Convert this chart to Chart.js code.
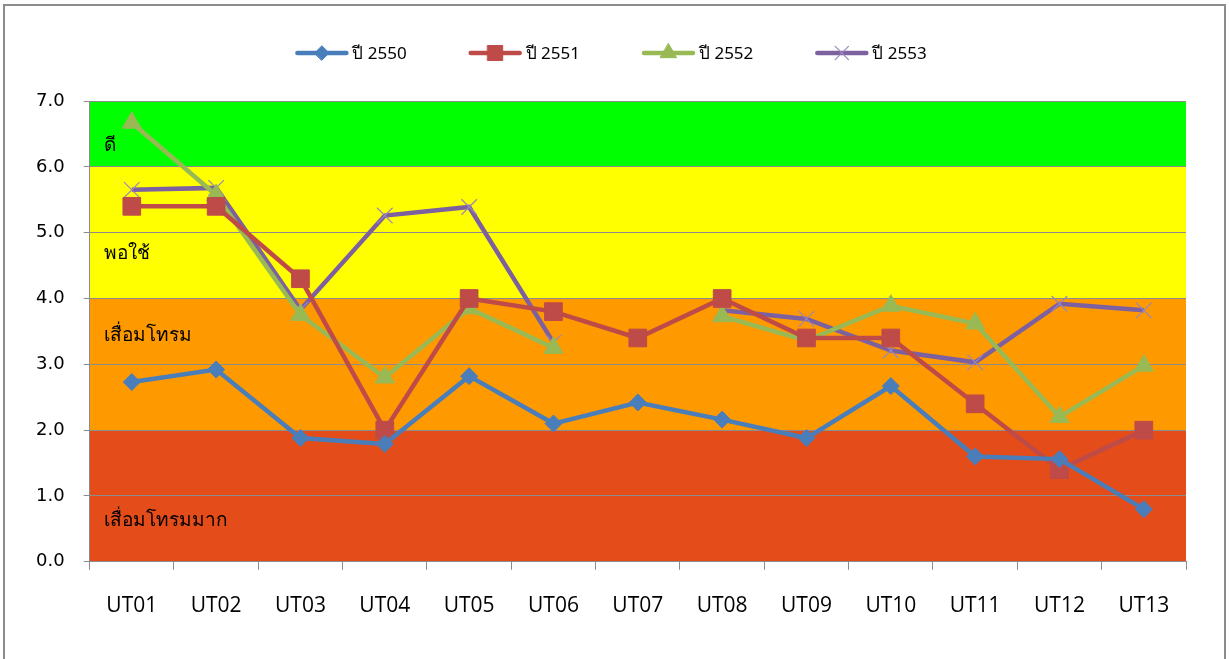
<!DOCTYPE html>
<html>
<head>
<meta charset="utf-8">
<script src="https://cdn.jsdelivr.net/npm/chart.js@4/dist/chart.umd.min.js"></script>
<style>
  html, body { margin: 0; padding: 0; background: #fff; }
  #wrap { width: 1229px; height: 659px; position: relative; }
</style>
</head>
<body>
<div id="wrap"><canvas id="chart"></canvas></div>
<script>
// categories and series
const units = ['UT01','UT02','UT03','UT04','UT05','UT06','UT07','UT08','UT09','UT10','UT11','UT12','UT13'];
const y2550 = [2.73, 2.92, 1.88, 1.79, 2.82, 2.10, 2.42, 2.16, 1.88, 2.67, 1.60, 1.56, 0.80];
const y2551 = [5.40, 5.40, 4.30, 2.00, 4.00, 3.80, 3.40, 4.00, 3.40, 3.40, 2.40, 1.40, 2.00];
const y2552 = [6.67, 5.57, 3.75, 2.80, 3.85, 3.25, null, 3.73, 3.36, 3.89, 3.62, 2.20, 2.98];
const y2553 = [5.65, 5.68, 3.83, 5.26, 5.39, 3.33, null, 3.82, 3.69, 3.21, 3.03, 3.92, 3.82];
const seriesNames = ['ปี 2550', 'ปี 2551', 'ปี 2552', 'ปี 2553'];

// rating bands
const bandFrom = [6, 4, 2, 0];
const bandTo = [7, 6, 4, 2];
const bandNames = ['ดี', 'พอใช้', 'เสื่อมโทรม', 'เสื่อมโทรมมาก'];

const yTicks = [0, 1, 2, 3, 4, 5, 6, 7];

const thaiFont = 'Tahoma, "Noto Sans", "DejaVu Sans", sans-serif';

// colours / styles
const bandColors = ['#00ff00', '#ffff00', '#ff9900', '#e44c1a'];
const bandLabelOffset = [45, 87, 37, 90]; // px below band top (text boxes)
const lineColors = ['#4a7ebb', '#be4b48', '#98b954', '#7d60a0'];
const markers = ['rectRot', 'rect', 'triangle', 'crossRot'];
const markerSize = [8.5, 12.5, 11, 11];

// background bands + frame
const bandPlugin = {
    id: 'bands',
    beforeDraw(chart) {
        const {ctx, chartArea, scales} = chart;
        ctx.save();
        // outer frame
        ctx.strokeStyle = '#8c8c8c';
        ctx.lineWidth = 2;
        ctx.strokeRect(4, 5, chart.width - 8, chart.height + 10);
        for (let i = 0; i < bandFrom.length; i++) {
            const top = scales.y.getPixelForValue(bandTo[i]);
            const bot = scales.y.getPixelForValue(bandFrom[i]);
            ctx.fillStyle = bandColors[i];
            ctx.fillRect(chartArea.left, top, chartArea.right - chartArea.left, bot - top);
        }
        ctx.restore();
    },
    beforeDatasetsDraw(chart) {
        const {ctx, chartArea, scales} = chart;
        ctx.save();
        ctx.fillStyle = '#000';
        ctx.font = '19px ' + thaiFont;
        ctx.textBaseline = 'middle';
        for (let i = 0; i < bandNames.length; i++) {
            const top = scales.y.getPixelForValue(bandTo[i]);
            ctx.fillText(bandNames[i], chartArea.left + 14, top + bandLabelOffset[i]);
        }
        ctx.restore();
    }
};

// legend: line with marker in the middle, like the spreadsheet one
const legendPlugin = {
    id: 'lineLegend',
    afterDraw(chart) {
        const ctx = chart.ctx;
        ctx.save();
        ctx.font = '17px ' + thaiFont;
        ctx.textBaseline = 'middle';
        const lineLen = 53, gap = 4, spacing = 62;
        let total = 0;
        const widths = seriesNames.map(n => ctx.measureText(n).width);
        widths.forEach((w, i) => { total += lineLen + gap + w + (i ? spacing : 0); });
        let x = 611 - total / 2;
        const y = 53;
        chart.data.datasets.forEach((ds, i) => {
            ctx.strokeStyle = ds.borderColor;
            ctx.lineWidth = 4.5;
            ctx.lineCap = 'round';
            ctx.beginPath();
            ctx.moveTo(x + 2, y);
            ctx.lineTo(x + lineLen - 2, y);
            ctx.stroke();
            ctx.fillStyle = ds.pointBackgroundColor;
            ctx.strokeStyle = ds.pointBorderColor;
            ctx.lineWidth = ds.pointBorderWidth;
            Chart.helpers.drawPoint(ctx, {
                pointStyle: ds.pointStyle,
                radius: ds.pointRadius * 0.85,
                borderWidth: ds.pointBorderWidth,
                rotation: 0
            }, x + lineLen / 2, y);
            ctx.fillStyle = '#000';
            ctx.fillText(seriesNames[i], x + lineLen + gap, y + 1);
            x += lineLen + gap + widths[i] + spacing;
        });
        ctx.restore();
    }
};

function makeSet(i, vals) {
    return {
        label: seriesNames[i],
        data: vals,
        borderColor: lineColors[i],
        backgroundColor: lineColors[i],
        borderWidth: 4.5,
        pointStyle: markers[i],
        pointRadius: markerSize[i],
        pointHoverRadius: markerSize[i],
        pointBackgroundColor: i === 3 ? 'rgba(0,0,0,0)' : lineColors[i],
        pointBorderColor: i === 3 ? '#9a86bd' : lineColors[i],
        pointBorderWidth: i === 3 ? 1.2 : 1,
        tension: 0,
        spanGaps: false
    };
}

const ctx = document.getElementById('chart');
const myChart = new Chart(ctx, {
    type: 'line',
    data: {
        labels: units,
        datasets: [makeSet(0, y2550), makeSet(1, y2551), makeSet(2, y2552), makeSet(3, y2553)]
    },
    options: {
        responsive: true,
        maintainAspectRatio: false,
        animation: false,
        layout: {
            padding: { left: 17, right: 43, top: 101, bottom: 16 }
        },
        plugins: {
            legend: { display: false },
            tooltip: { enabled: false }
        },
        scales: {
            x: {
                offset: true,
                grid: {
                    offset: true,
                    drawOnChartArea: false,
                    drawTicks: true,
                    tickLength: 8,
                    color: '#8c8c8c'
                },
                border: { color: '#8c8c8c', width: 1 },
                ticks: {
                    color: '#000',
                    padding: 24,
                    font: { family: '"Open Sans", sans-serif', size: 21 },
                    maxRotation: 0,
                    autoSkip: false
                }
            },
            y: {
                min: yTicks[0],
                max: yTicks[yTicks.length - 1],
                afterBuildTicks(scale) {
                    scale.ticks = yTicks.map(v => ({ value: v }));
                },
                grid: {
                    color: '#8c8c8c',
                    tickLength: 6,
                    z: 0
                },
                border: { color: '#8c8c8c', width: 1 },
                ticks: {
                    color: '#000',
                    padding: 19,
                    font: { family: '"DejaVu Sans", sans-serif', size: 18 },
                    callback: v => Number(v).toFixed(1)
                }
            }
        }
    },
    plugins: [bandPlugin, legendPlugin]
});
</script>
</body>
</html>
